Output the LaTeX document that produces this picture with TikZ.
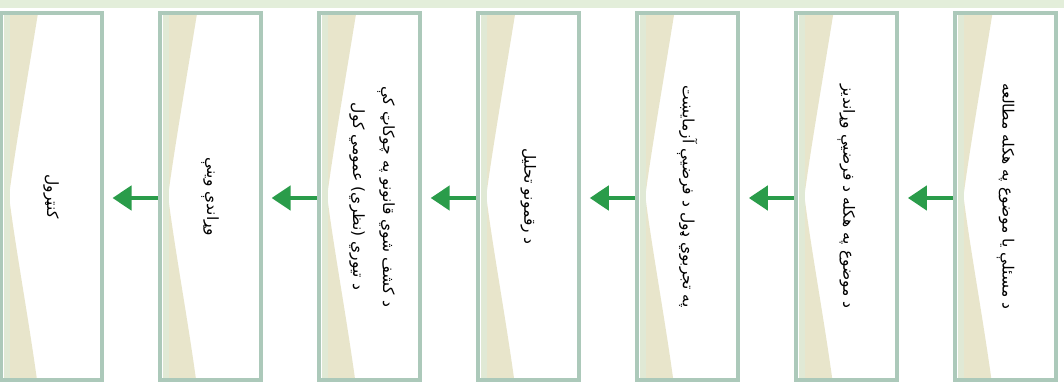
\documentclass[tikz,border=0pt]{standalone}
\usepackage{fontspec}
\newfontfamily\arabicfont[Script=Arabic]{DejaVu Sans}
\TeXXeTstate=1
\usetikzlibrary{arrows.meta}
\definecolor{bandgreen}{HTML}{E3EEDA}
\definecolor{panelborder}{HTML}{ACC9BA}
\definecolor{beige}{HTML}{E8E5CB}
\definecolor{stripgreen}{HTML}{E0E9D5}
\definecolor{arrowgreen}{HTML}{2A9C4A}
\tikzset{
  panel/.style={draw=panelborder, line width=4pt, minimum width=101pt, minimum height=367pt, inner sep=0pt},
  label/.style={rotate=-90, align=center, inner sep=0pt, font=\arabicfont\fontsize{15.5}{30}\selectfont},
  arr/.style={draw=arrowgreen, line width=4.5pt, -{Triangle[length=19pt,width=24pt]}, shorten >=9pt},
}
\begin{document}
\begin{tikzpicture}[x=1pt,y=-1pt]
\useasboundingbox (0,0) rectangle (1064,382);
\fill[white] (0,0) rectangle (1064,382);
\fill[bandgreen] (0,0) rectangle (1064,8);
\foreach \i in {0,...,6}{
  \pgfmathsetmacro{\x}{\i*159.08}
  \fill[beige] (\x+4,13) -- (\x+38,13) .. controls (\x+28,75) and (\x+15,150) .. (\x+9,196)
     .. controls (\x+15,245) and (\x+28,315) .. (\x+37,380) -- (\x+4,380) -- cycle;
  \fill[stripgreen] (\x+4,13) rectangle (\x+10,380);
  \node[panel] (p\i) at (\x+51,196.5) {};
}
\node[label] (t0) at (p0.center) {\beginR کنټرول\endR};
\node[label] (t1) at (p1.center) {\beginR وړاندې وینې\endR};
\node[label] (t2) at ([xshift=3pt]p2.center) {\beginR د کشف شوي قانونو په چوکاټ کې\endR\\\beginR د تیوري (نظري) عمومي کول\endR};
\node[label] (t3) at (p3.center) {\beginR د رقمونو تحلیل\endR};
\node[label] (t4) at (p4.center) {\beginR په تجربوي ډول د فرضیې آزمایښت\endR};
\node[label] (t5) at (p5.center) {\beginR د موضوع په هکله د فرضیې وړاندیز\endR};
\node[label] (t6) at (p6.center) {\beginR د مسئلې یا موضوع په هکله مطالعه\endR};
\foreach \a/\b in {6/5,5/4,4/3,3/2,2/1,1/0}{
  \draw[arr] ([yshift=-1.5pt]p\a.west) -- ([yshift=-1.5pt]p\b.east);
}
\end{tikzpicture}
\end{document}
